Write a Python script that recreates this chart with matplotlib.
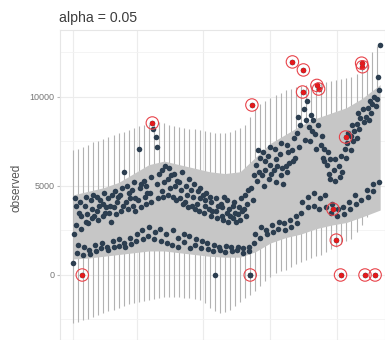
import numpy as np
import matplotlib.pyplot as plt

plt.rcParams['font.family'] = ['Liberation Sans', 'DejaVu Sans']

# daily observations, one row per week (day 0 .. 364)
observed = [
    675, 2300, 4300, 3900, 2800, 1250, 1700,
    3500, 4100, 2600, 3300, 0, 1100, 1550,
    3900, 3000, 4400, 3400, 2900, 1400, 1200,
    4200, 3200, 3700, 4500, 3300, 1700, 1350,
    3600, 4400, 3100, 3900, 4200, 1500, 1800,
    3300, 4000, 4600, 3500, 3800, 1600, 1400,
    4300, 3500, 3900, 3000, 4500, 1900, 1550,
    3800, 4700, 3400, 4100, 4400, 1650, 2000,
    4500, 3600, 4900, 3900, 5800, 1800, 1600,
    4100, 5000, 3700, 4600, 4300, 2100, 1750,
    4800, 3900, 5200, 4300, 3600, 1900, 2300,
    4200, 7080, 4900, 3800, 5100, 2500, 2000,
    5300, 4400, 4000, 5000, 4600, 2200, 2700,
    4600, 5500, 4100, 8540, 8200, 2000, 2400,
    7750, 7200, 5100, 4300, 5700, 2600, 1900,
    4700, 5900, 4400, 5200, 6100, 2300, 1800,
    5400, 4500, 6000, 4900, 5600, 1700, 2500,
    4400, 5700, 5000, 4200, 5300, 2100, 1600,
    5200, 4300, 4800, 5800, 4000, 1850, 2300,
    4100, 5000, 4500, 3800, 5400, 2200, 1500,
    4800, 3900, 4400, 5100, 3700, 1700, 2000,
    4000, 4700, 3600, 4300, 4900, 1500, 1900,
    4500, 3500, 4200, 3900, 4600, 1800, 1450,
    3700, 4400, 3300, 4100, 3600, 1350, 1700,
    0, 3600, 4300, 3200, 3900, 1600, 1400,
    4000, 3300, 3800, 3100, 4400, 1300, 1650,
    3500, 4200, 3000, 3700, 3300, 1550, 1350,
    3900, 3200, 4100, 3500, 3000, 1400, 1600,
    3400, 3800, 3100, 4300, 3600, 1250, 1500,
    3700, 4500, 3300, 4000, 4800, 1600, 1350,
    0, 4900, 9550, 4200, 5600, 1800, 2300,
    6200, 5300, 7000, 5800, 6600, 2100, 2700,
    5600, 6900, 5000, 6400, 5900, 2500, 2300,
    6700, 5400, 6200, 7200, 5700, 2800, 2400,
    5900, 7100, 5200, 6500, 6100, 2600, 3000,
    6800, 5600, 7400, 6000, 5100, 2900, 2500,
    6100, 7300, 5800, 6900, 6300, 3100, 2700,
    7000, 11970, 6400, 7700, 6600, 3300, 2900,
    8000, 8900, 7200, 8400, 3500, 4100, 10280,
    11520, 9300, 7600, 8700, 9800, 3800, 4400,
    8300, 7500, 9000, 8100, 8700, 4600, 3900,
    7900, 7100, 10650, 8400, 10450, 3700, 4300,
    7300, 7800, 6600, 7100, 6400, 4500, 3800,
    6200, 6900, 5700, 6500, 5400, 3500, 4000,
    3700, 5900, 6500, 5300, 1960, 3300, 3700,
    6100, 5500, 0, 6700, 5800, 3800, 3400,
    7100, 7750, 6600, 7400, 8000, 4100, 3700,
    7800, 7000, 8400, 7500, 8100, 4500, 4000,
    8500, 7700, 9100, 8200, 8800, 4200, 11900,
    11700, 9300, 8600, 0, 8900, 4800, 4400,
    9400, 8700, 9800, 9100, 9600, 4700, 5100,
    10000, 0, 9500, 9900, 11120, 10400, 5200,
    12920,
]
days = np.arange(len(observed))

anomaly_days = [11, 94, 210, 212, 260, 272, 273, 289, 291, 308, 312, 317, 323, 342, 343, 346, 358]
hidden_anomaly_days = [210]  # drawn under a normal point

# outer bound lines (every 6 days)
band_days = list(range(0, 361, 6))
band_upper = [7000, 7100, 7200, 7300, 7450, 7550, 7650, 7750, 7850, 7950,
              8050, 8150, 8250, 8350, 8450, 8500, 8600, 8600, 8550, 8450,
              8350, 8300, 8250, 8200, 8200, 8150, 8100, 8050, 8000, 8000,
              8000, 8050, 8150, 8250, 8450, 8900, 9300, 9600, 9800, 9950,
              10100, 10250, 10400, 10450, 10550, 10600, 10650, 10700, 10750, 10800,
              10850, 10900, 10950, 11000, 11050, 11100, 11300, 11600, 12000, 12500,
              12850]
band_lower = [-2700, -2650, -2550, -2450, -2350, -2250, -2150, -2050, -1950, -1850,
              -1750, -1650, -1550, -1500, -1450, -1400, -1350, -1300, -1250, -1250,
              -1250, -1250, -1300, -1300, -1350, -1400, -1600, -1850, -2050, -2150,
              -2100, -1950, -1750, -1500, -1300, -1150, -900, -600, -350, -100,
              100, 200, 300, 450, 600, 750, 850, 950, 1050, 1150,
              1300, 1450, 1600, 1750, 1900, 2050, 2400, 2800, 3250, 3700,
              4200]

# solid inner band
inner_days = [0, 18, 36, 54, 72, 90, 108, 126, 144, 162, 180, 198, 216, 234, 252, 270, 288, 306, 324, 342, 364]
inner_lower = [900, 950, 1050, 1150, 1250, 1350, 1350, 1250, 1150, 1050, 1000,
               1000, 1300, 1800, 2100, 2300, 2600, 2800, 2950, 3250, 3650]
inner_upper = [4500, 4700, 4900, 5200, 5700, 6200, 6400, 6200, 6000, 5800, 5700,
               5800, 6600, 7400, 7900, 8400, 8800, 9100, 9400, 9900, 10700]

grid_days = [0, 76, 154, 234, 313]

fig = plt.figure(figsize=(3.85, 3.4), dpi=100)
ax = fig.add_axes([60 / 385, 0, 325 / 385, 310 / 340])

ax.vlines(band_days, band_lower, band_upper, color='#b2b2b2', lw=0.8, zorder=1)
ax.fill_between(inner_days, inner_lower, inner_upper, color='#c6c6c6', lw=0, zorder=2)

obs = np.array(observed)
ax.scatter(days, obs, s=16, color='#2c3e50', lw=0, zorder=3)

an = np.array(anomaly_days)
ax.scatter(an, obs[an], s=14, color='#e31a1c', lw=0, zorder=4)
ax.scatter(an, obs[an], s=80, facecolor='none', edgecolor='#e8434a', lw=0.8, zorder=4)
hid = np.array(hidden_anomaly_days)
ax.scatter(hid, obs[hid], s=16, color='#2c3e50', lw=0, zorder=5)

ax.set_xlim(-15.4, 369.7)
ax.set_ylim(-3652, 13764)
ax.set_yticks([0, 5000, 10000])
ax.set_yticks([-2500, 2500, 7500, 12500], minor=True)
ax.set_xticks(grid_days)
ax.set_xticklabels([])
ax.tick_params(axis='x', length=0)
ax.tick_params(axis='y', which='major', length=2, color='#bbbbbb', labelsize=6.5,
               labelcolor='#777777', pad=2)
ax.tick_params(axis='y', which='minor', length=0)
ax.grid(True, which='major', color='#ececec', lw=0.8, zorder=0)
ax.grid(True, which='minor', axis='y', color='#f2f2f2', lw=0.6, zorder=0)
ax.set_axisbelow(True)
for s in ax.spines.values():
    s.set_color('#e6e6e6')
    s.set_linewidth(0.8)

fig.text(59 / 385, 1 - 18 / 340, 'alpha = 0.05', fontsize=10.2, color='#3d3d3d',
         ha='left', va='center')
fig.text(16 / 385, 1 - 188 / 340, 'observed', fontsize=8.5, color='#555555',
         rotation=90, ha='center', va='center')

fig.savefig('out.png', dpi=100)
